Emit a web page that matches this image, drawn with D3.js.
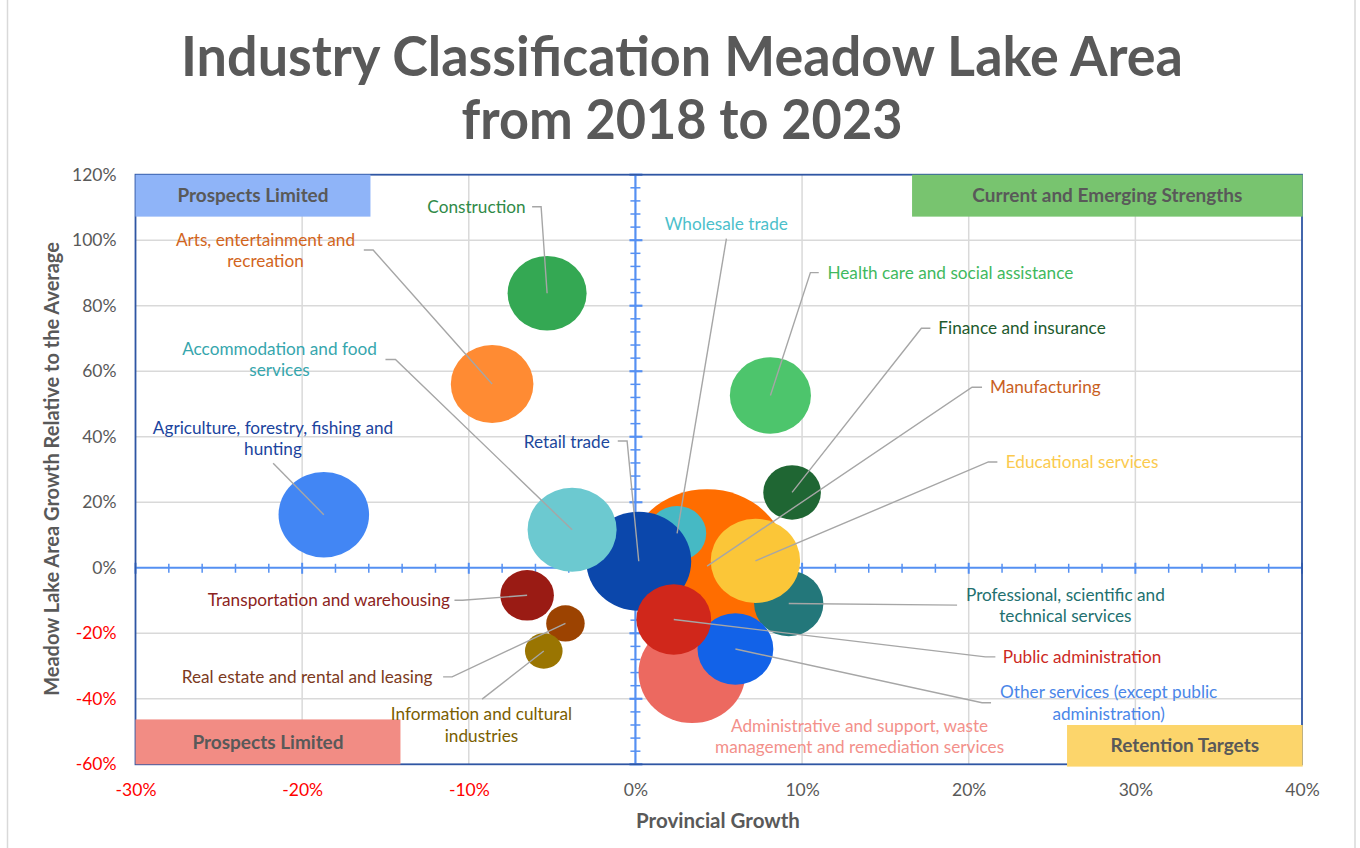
<!DOCTYPE html>
<html>
<head>
<meta charset="utf-8">
<script src="https://cdn.jsdelivr.net/npm/d3@7"></script>
<style>
  body { margin: 0; background: #fff; }
  svg { display: block; font-family: Lato, "Open Sans", sans-serif; }
</style>
</head>
<body>
<svg id="chart" width="1360" height="848"></svg>
<script>
// ---- Data (percent values; bubble size = employment) ----
const industries = [
  "Manufacturing", "Wholesale trade", "Retail trade", "Accommodation and food services",
  "Professional, scientific and technical services", "Educational services",
  "Administrative and support, waste management and remediation services",
  "Other services (except public administration)", "Public administration",
  "Finance and insurance", "Health care and social assistance", "Construction",
  "Arts, entertainment and recreation", "Agriculture, forestry, fishing and hunting",
  "Transportation and warehousing", "Real estate and rental and leasing",
  "Information and cultural industries"
];
const provincialGrowth = [4.3, 2.5, 0.2, -3.8, 9.2, 7.2, 3.4, 6.0, 2.3, 9.4, 8.1, -5.3, -8.6, -18.7, -6.5, -4.2, -5.5];
const relativeGrowth   = [0.5, 10.5, 2.0, 11.6, -10.9, 2.1, -32.0, -24.8, -15.8, 23.0, 52.6, 83.8, 56.1, 16.2, -8.4, -17.0, -25.4];
const employment       = [1186, 151, 490, 353, 214, 356, 510, 256, 249, 148, 293, 278, 304, 365, 128, 66, 63];

// ---- Tick labels ----
const xTickValues = [-30, -20, -10, 0, 10, 20, 30, 40];
const yTickValues = [-60, -40, -20, 0, 20, 40, 60, 80, 100, 120];
const quadrantNames = ["Prospects Limited", "Current and Emerging Strengths", "Prospects Limited", "Retention Targets"];

// ---- Styles ----
const bubbleColors = ["#ff6d00", "#46b9c4", "#0b47ab", "#6cc9d0", "#23777a", "#fbc638", "#ec6960",
  "#1262e8", "#d0271b", "#1f6633", "#4dc56c", "#34a853", "#ff8b33", "#4286f4", "#9a1b14", "#9c4301", "#9a7501"];
const labelColors = ["#c9601e", "#4cbfcb", "#1c479c", "#36a6ad", "#22706f", "#fbca4e", "#f3908a",
  "#4a86e8", "#cc2a1f", "#1d5a2e", "#3fb95e", "#2f8a47", "#d2651c", "#1b449e", "#8c2320", "#7c3a1d", "#7a5e00"];

// Label text lines, label centre (data units) and leader line points (data units)
const labelLines = [
  ["Manufacturing"], ["Wholesale trade"], ["Retail trade"], ["Accommodation and food", "services"],
  ["Professional, scientific and", "technical services"], ["Educational services"],
  ["Administrative and support, waste", "management and remediation services"],
  ["Other services (except public", "administration)"], ["Public administration"],
  ["Finance and insurance"], ["Health care and social assistance"], ["Construction"],
  ["Arts, entertainment and", "recreation"], ["Agriculture, forestry, fishing and", "hunting"],
  ["Transportation and warehousing"], ["Real estate and rental and leasing"],
  ["Information and cultural", "industries"]
];
const labelAnchor = [
  [24.6, 55.2], [5.45, 104.9], [-4.12, 38.4], [-21.36, 66.8], [25.8, -8.3], [26.8, 32.3],
  [13.45, -48.3], [28.4, -38.0], [26.8, -27.3], [23.2, 73.2], [18.9, 90.0], [-9.54, 110.1],
  [-22.2, 100.1], [-21.75, 42.7], [-18.4, -9.9], [-19.7, -33.4], [-9.24, -44.7]
];
const leaderPoints = [
  [[20.8, 55.1], [20.2, 55.1]],
  [[5.46, 100.5]],
  [[-1.06, 38.7], [-0.50, 38.7]],
  [[-15.0, 63.6], [-14.4, 63.6]],
  [[19.3, -11.4]],
  [[21.72, 32.3], [21.18, 32.3]],
  null,
  [[21.34, -41.2], [20.8, -41.2]],
  [[21.6, -27.2], [21.0, -27.2]],
  [[17.7, 73.1], [17.16, 73.1]],
  [[11.0, 90.1], [10.5, 90.1]],
  [[-6.2, 110.2], [-5.66, 110.2]],
  [[-16.3, 97.0], [-15.74, 97.0]],
  [[-21.74, 31.9]],
  [[-10.86, -9.9], [-10.38, -9.9]],
  [[-11.54, -33.3], [-11.0, -33.3]],
  [[-9.2, -40.1]]
];

// ---- Layout ----
const svg = d3.select("#chart");
const plot = { left: 135.5, right: 1302, top: 174.7, bottom: 764.3 };
const x = d3.scaleLinear().domain([-30, 40]).range([plot.left, plot.right]);
const y = d3.scaleLinear().domain([-60, 120]).range([plot.bottom, plot.top]);
const rY = d3.scaleSqrt().domain([0, d3.max(employment)]).range([0, 77]);
const rX = d3.scaleSqrt().domain([0, d3.max(employment)]).range([0, 81.6]);
const pct = d => `${d}%`;
const grey = "#595959";

// outer chart frame
svg.append("rect").attr("x", 7.5).attr("y", -2).attr("width", 1347.5).attr("height", 852)
  .attr("fill", "none").attr("stroke", "#d9d9d9").attr("stroke-width", 1.5);

// Title
const title = svg.append("text").attr("text-anchor", "middle").attr("fill", grey)
  .attr("font-weight", 700).attr("font-size", 56);
title.append("tspan").attr("x", 682).attr("y", 76).attr("textLength", 1002).attr("lengthAdjust", "spacingAndGlyphs")
  .text("Industry Classification Meadow Lake Area");
title.append("tspan").attr("x", 682).attr("y", 139).attr("textLength", 441).attr("lengthAdjust", "spacingAndGlyphs")
  .text("from 2018 to 2023");

// Gridlines
const grid = svg.append("g").attr("stroke", "#d9d9d9").attr("stroke-width", 1.5);
grid.selectAll(".gx").data(xTickValues.filter(d => d !== 0 && d !== -30 && d !== 40)).join("line")
  .attr("x1", d => x(d)).attr("x2", d => x(d)).attr("y1", plot.top).attr("y2", plot.bottom);
grid.selectAll(".gy").data(yTickValues.filter(d => d !== 0 && d !== -60 && d !== 120)).join("line")
  .attr("y1", d => y(d)).attr("y2", d => y(d)).attr("x1", plot.left).attr("x2", plot.right);

// Axis lines crossing at zero, with minor/major tick marks
const axisBlue = "#5590f2";
const axes = svg.append("g").attr("stroke", axisBlue);
const xMinor = d3.range(-30, 40.001, 2);
const yMinor = d3.range(-60, 120.001, 4);
axes.append("line").attr("x1", plot.left).attr("x2", plot.right).attr("y1", y(0)).attr("y2", y(0)).attr("stroke-width", 2.2);
axes.append("line").attr("x1", x(0)).attr("x2", x(0)).attr("y1", plot.top).attr("y2", plot.bottom).attr("stroke-width", 2.2);
axes.selectAll(".tx").data(xMinor.filter(d => d !== 0)).join("line")
  .attr("x1", d => x(d)).attr("x2", d => x(d))
  .attr("y1", d => y(0) - (d % 10 === 0 ? 5 : 4)).attr("y2", d => y(0) + (d % 10 === 0 ? 6 : 5))
  .attr("stroke-width", d => d % 10 === 0 ? 2 : 1.5);
axes.selectAll(".ty").data(yMinor.filter(d => d !== 0)).join("line")
  .attr("y1", d => y(d)).attr("y2", d => y(d))
  .attr("x1", d => x(0) - (d % 20 === 0 ? 6 : 5)).attr("x2", d => x(0) + (d % 20 === 0 ? 7 : 5))
  .attr("stroke-width", d => d % 20 === 0 ? 2.2 : 1.5);

// Plot border
svg.append("rect").attr("x", plot.left).attr("y", plot.top)
  .attr("width", plot.right - plot.left).attr("height", plot.bottom - plot.top)
  .attr("fill", "none").attr("stroke", "#2f56a3").attr("stroke-width", 1.8);

// Tick labels via axes
const xAxis = svg.append("g").attr("transform", `translate(0,${plot.bottom + 16})`)
  .call(d3.axisBottom(x).tickValues(xTickValues).tickFormat(pct).tickSize(0));
xAxis.select(".domain").remove();
xAxis.selectAll("text").attr("font-size", 17.5).attr("font-family", "Lato, sans-serif")
  .attr("fill", d => d < 0 ? "#ff0000" : grey).attr("dy", "0.71em");

const yAxis = svg.append("g").attr("transform", `translate(${plot.left - 19},0)`)
  .call(d3.axisLeft(y).tickValues(yTickValues).tickFormat(pct).tickSize(0));
yAxis.select(".domain").remove();
yAxis.selectAll("text").attr("font-size", 17.5).attr("font-family", "Lato, sans-serif")
  .attr("fill", d => d < 0 ? "#ff0000" : grey).attr("x", 0);

// Axis titles
svg.append("text").attr("x", 718).attr("y", 828).attr("text-anchor", "middle")
  .attr("font-size", 20.5).attr("font-weight", 700).attr("fill", grey).text("Provincial Growth");
svg.append("text").attr("transform", "translate(59,469) rotate(-90)").attr("text-anchor", "middle")
  .attr("font-size", 20).attr("font-weight", 700).attr("fill", grey)
  .text("Meadow Lake Area Growth Relative to the Average");

// Quadrant captions
const quadrants = [
  { x0: -30, x1: -15.9, y0: 120, y1: 107.2, fill: "#8fb4f8" },
  { x0: 16.6, x1: 40.04, y0: 120, y1: 107.2, fill: "#78c46f" },
  { x0: -30, x1: -14.1, y0: -46.3, y1: -60, fill: "#f28c84" },
  { x0: 25.9, x1: 40.04, y0: -48.0, y1: -60.7, fill: "#fcd56b" }
];
const qg = svg.append("g");
qg.selectAll("rect").data(quadrants).join("rect")
  .attr("x", d => x(d.x0)).attr("width", d => x(d.x1) - x(d.x0))
  .attr("y", d => y(d.y0)).attr("height", d => y(d.y1) - y(d.y0))
  .attr("fill", d => d.fill);
qg.selectAll("text").data(quadrants).join("text")
  .attr("x", d => (x(d.x0) + x(d.x1)) / 2).attr("y", d => (y(d.y0) + y(d.y1)) / 2)
  .attr("dy", "0.35em").attr("text-anchor", "middle")
  .attr("font-size", 19).attr("font-weight", 700).attr("fill", grey)
  .text((d, i) => quadrantNames[i]);

// Bubbles
const rows = industries.map((name, i) => ({
  name, gx: provincialGrowth[i], gy: relativeGrowth[i], size: employment[i], i
}));
svg.append("g").selectAll("ellipse").data(rows).join("ellipse")
  .attr("cx", d => x(d.gx)).attr("cy", d => y(d.gy))
  .attr("rx", d => rX(d.size)).attr("ry", d => rY(d.size))
  .attr("fill", d => bubbleColors[d.i]);

// Leader lines
const line = d3.line();
svg.append("g").selectAll("path").data(rows.filter(d => leaderPoints[d.i])).join("path")
  .attr("d", d => line([...leaderPoints[d.i].map(p => [x(p[0]), y(p[1])]), [x(d.gx), y(d.gy)]]))
  .attr("fill", "none").attr("stroke", "#a6a6a6").attr("stroke-width", 1.4);

// Data labels
const lbl = svg.append("g").selectAll("text").data(rows).join("text")
  .attr("text-anchor", "middle").attr("font-size", 17.2).attr("fill", d => labelColors[d.i])
  .attr("transform", d => `translate(${x(labelAnchor[d.i][0])},${y(labelAnchor[d.i][1])})`);
lbl.selectAll("tspan").data(d => labelLines[d.i]).join("tspan")
  .attr("x", 0).attr("y", (t, k) => k * 21.5).attr("dy", "0.35em").text(t => t);
</script>
</body>
</html>
